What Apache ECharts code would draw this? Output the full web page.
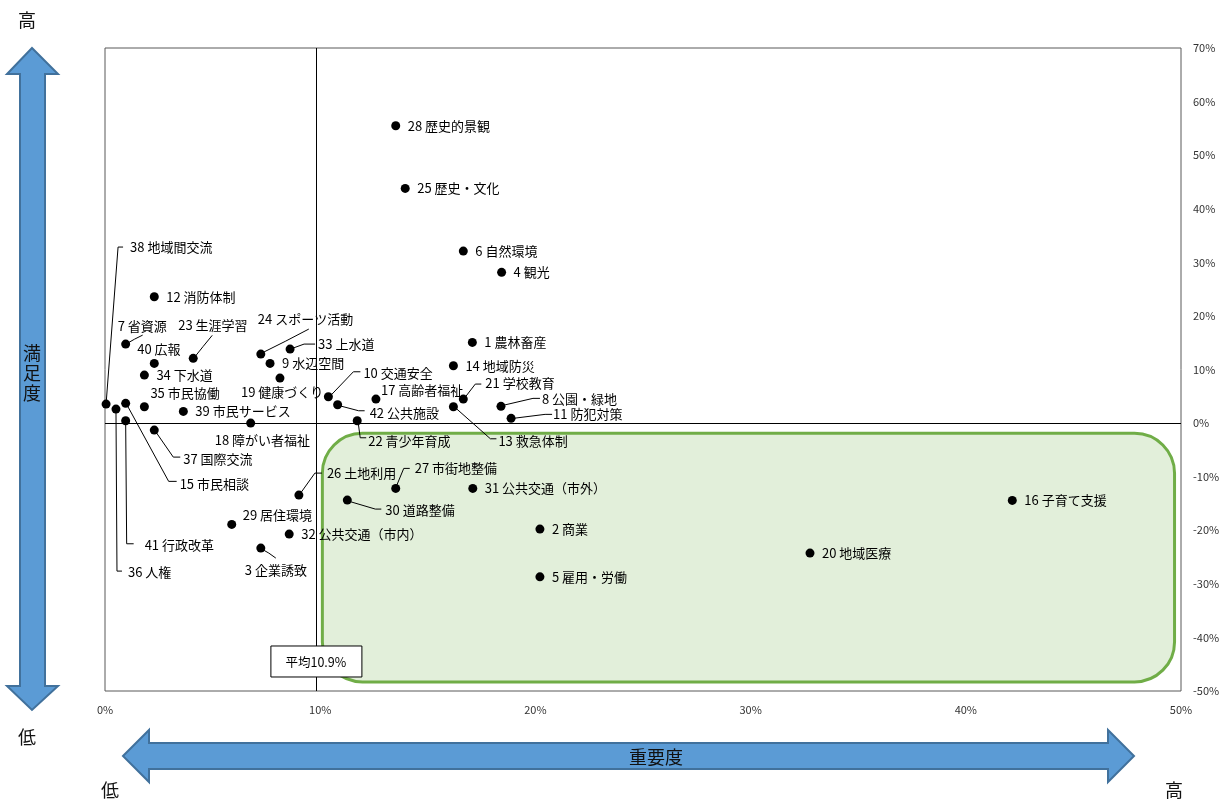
<!DOCTYPE html>
<html><head><meta charset="utf-8">
<script src="https://cdn.jsdelivr.net/npm/echarts@6/dist/echarts.min.js"></script>
<style>html,body{margin:0;padding:0;background:#fff}#c{width:1229px;height:800px}</style>
</head><body><div id="c"></div>
<script>
// ---- data ----
const ITEM_IDS = [1,2,3,4,5,6,7,8,9,10,11,12,13,14,15,16,17,18,19,20,21,22,23,24,25,26,27,28,29,30,31,32,33,34,35,36,37,38,39,40,41,42];
const ITEM_NAMES = ['農林畜産','商業','企業誘致','観光','雇用・労働','自然環境','省資源','公園・緑地','水辺空間','交通安全',
  '防犯対策','消防体制','救急体制','地域防災','市民相談','子育て支援','高齢者福祉','障がい者福祉','健康づくり','地域医療',
  '学校教育','青少年育成','生涯学習','スポーツ活動','歴史・文化','土地利用','市街地整備','歴史的景観','居住環境','道路整備',
  '公共交通（市外）','公共交通（市内）','上水道','下水道','市民協働','人権','国際交流','地域間交流','市民サービス','広報',
  '行政改革','公共施設'];
// 重要度 (%)
const IMPORTANCE = [17.07,20.21,7.24,18.43,20.21,16.65,0.96,18.40,7.67,10.38,
  18.87,2.29,16.19,16.19,0.96,42.16,12.59,6.77,8.13,32.76,
  16.65,11.72,4.10,7.24,13.95,9.01,13.51,13.51,5.89,11.26,
  17.09,8.56,8.60,1.83,1.83,0.51,2.29,0.05,3.64,2.29,
  0.96,10.81];
// 満足度 (%)
const SATISFACTION = [15.06,-19.78,-23.33,28.13,-28.69,32.10,14.74,3.12,11.14,4.91,
  0.88,23.57,3.04,10.69,3.68,-14.43,4.48,0.00,8.40,-24.26,
  4.48,0.43,12.08,12.88,43.80,-13.44,-12.19,55.49,-18.91,-14.37,
  -12.19,-20.72,13.81,8.96,3.04,2.61,-1.31,3.55,2.18,11.14,
  0.43,3.42];
const X_TICKS = [0,10,20,30,40,50];
const Y_TICKS = [-50,-40,-30,-20,-10,0,10,20,30,40,50,60,70];
const AVERAGE_LINE = 9.8;
const AVERAGE_LABEL = '平均10.9%';
const GREEN_ZONE_X = [10.1, 49.7];
const GREEN_ZONE_Y = [-1.9, -48.3];

// ---- label placement styles (pixel offsets from point centre) ----
const LABEL_OFFSET = {
  38:[24,-157], 7:[-8,-18], 40:[-17,-14], 23:[-15,-33], 24:[-3,-35], 33:[28,-5],
  19:[-39,14], 35:[6,-14], 18:[-36,17], 10:[35,-24], 17:[5,-9], 42:[32,8], 22:[11,20],
  21:[22,-16], 8:[41,-7], 11:[42,-4], 13:[45,34], 37:[29,29], 15:[54,81], 41:[19,124],
  36:[12,163], 26:[28,-22], 27:[19,-20], 30:[38,10], 29:[11,-9], 3:[-16,22]
};
const LEADERS = {
  38:[[0,0],[12,-157],[17,-157]], 7:[[2,-1],[9,-5],[17,-9]], 23:[[2,-2],[10,-12],[19,-23]],
  24:[[3,-2],[25,-13],[48,-25]], 33:[[3,-1],[14,-5],[25,-5]], 10:[[3,-2],[25,-25],[32,-25]],
  42:[[2,1],[21,6],[27,6]], 22:[[1,2],[3,17],[9,17]], 21:[[2,-2],[12,-15],[18,-15]],
  8:[[2,-1],[32,-8],[39,-8]], 11:[[2,0],[34,-4],[41,-4]], 13:[[2,1],[37,32],[43,32]],
  37:[[1,1],[19,27],[26,27]], 15:[[1,1],[43,78],[51,78]], 41:[[0,1],[1,123],[8,123]],
  36:[[0,1],[1,162],[6,162]], 26:[[1,-1],[16,-22],[23,-22]], 27:[[1,-3],[8,-20],[14,-20]],
  30:[[1,1],[28,9],[34,9]], 3:[[1,1],[8,5],[15,10]]
};

const FONT = '"Noto Sans CJK JP", "Noto Sans", sans-serif';
const chart = echarts.init(document.getElementById('c'));

const points = ITEM_IDS.map((id, i) => ({
  name: id + ' ' + ITEM_NAMES[i],
  value: [IMPORTANCE[i], SATISFACTION[i]]
}));
const leaderData = [];
ITEM_IDS.forEach((id, i) => { if (LEADERS[id]) leaderData.push([IMPORTANCE[i], SATISFACTION[i], id]); });

chart.setOption({
  animation: false,
  grid: { left: 105, right: 48, top: 48, bottom: 109, show: true, borderColor: '#595959', borderWidth: 1, backgroundColor: 'transparent' },
  xAxis: {
    type: 'value', min: X_TICKS[0], max: X_TICKS[X_TICKS.length-1], interval: 10,
    axisLine: { show: false }, axisTick: { show: false }, splitLine: { show: false },
    axisLabel: { formatter: '{value}%', fontSize: 11, color: '#333', margin: 13, fontFamily: FONT }
  },
  yAxis: {
    type: 'value', position: 'right', min: Y_TICKS[0], max: Y_TICKS[Y_TICKS.length-1], interval: 10,
    axisLine: { show: false }, axisTick: { show: false }, splitLine: { show: false },
    axisLabel: { formatter: '{value}%', fontSize: 11, color: '#333', margin: 12, fontFamily: FONT }
  },
  series: [{
    type: 'custom',
    z: 3,
    silent: true,
    data: leaderData,
    renderItem: function (params, api) {
      const id = api.value(2);
      const c = api.coord([api.value(0), api.value(1)]);
      return {
        type: 'polyline',
        shape: { points: LEADERS[id].map(q => [c[0] + q[0], c[1] + q[1]]) },
        style: { stroke: '#000', lineWidth: 1, fill: null }
      };
    }
  }, {
    type: 'scatter',
    z: 4,
    symbol: 'circle', symbolSize: 9,
    itemStyle: { color: '#000', opacity: 1 },
    data: points,
    label: { show: true, position: 'right', formatter: '{b}', fontSize: 13, color: '#000', fontFamily: FONT },
    labelLayout: function (p) {
      const id = ITEM_IDS[p.dataIndex];
      const cx = p.rect.x + p.rect.width / 2, cy = p.rect.y + p.rect.height / 2;
      const off = LABEL_OFFSET[id] || [12, 0];
      return { x: cx + off[0], y: cy + off[1], align: 'left', verticalAlign: 'middle' };
    },
    markLine: {
      silent: true, symbol: 'none', label: { show: false },
      lineStyle: { color: '#000', width: 1, type: 'solid' },
      data: [{ yAxis: 0 }, { xAxis: AVERAGE_LINE }]
    }
  }]
});

// ---- decorations ----
const g0 = chart.convertToPixel({ gridIndex: 0 }, [GREEN_ZONE_X[0], GREEN_ZONE_Y[0]]);
const g1 = chart.convertToPixel({ gridIndex: 0 }, [GREEN_ZONE_X[1], GREEN_ZONE_Y[1]]);
const avgPx = chart.convertToPixel({ gridIndex: 0 }, [AVERAGE_LINE, -44.4]);
const ARROW_FILL = '#5b9bd5', ARROW_STROKE = '#41719c';

chart.setOption({
  graphic: [
    { type: 'rect', z: 1, silent: true,
      shape: { x: g0[0], y: g0[1], width: g1[0] - g0[0], height: g1[1] - g0[1], r: 40 },
      style: { fill: '#e2efda', stroke: '#70ad47', lineWidth: 3 } },
    { type: 'rect', z: 10, silent: true,
      shape: { x: avgPx[0] - 45, y: avgPx[1] - 15, width: 91, height: 31 },
      style: { fill: '#fff', stroke: '#000', lineWidth: 1 } },
    { type: 'text', z: 11, silent: true, x: avgPx[0], y: avgPx[1] + 1,
      style: { text: AVERAGE_LABEL, font: '12.5px ' + FONT, fill: '#000', align: 'center', verticalAlign: 'middle' } },
    // vertical arrow
    { type: 'polygon', z: 1, silent: true,
      shape: { points: [[32,48],[58,74],[45,74],[45,686],[58,686],[32,710],[7,686],[20,686],[20,74],[7,74]] },
      style: { fill: ARROW_FILL, stroke: ARROW_STROKE, lineWidth: 2 } },
    { type: 'text', z: 2, silent: true, x: 32, y: 373,
      style: { text: '満\n足\n度', font: '18px ' + FONT, lineHeight: 20, fill: '#111', align: 'center', verticalAlign: 'middle' } },
    // horizontal arrow
    { type: 'polygon', z: 1, silent: true,
      shape: { points: [[123,756],[149,730],[149,743],[1108,743],[1108,730],[1134,756],[1108,782],[1108,769],[149,769],[149,782]] },
      style: { fill: ARROW_FILL, stroke: ARROW_STROKE, lineWidth: 2 } },
    { type: 'text', z: 2, silent: true, x: 656, y: 757,
      style: { text: '重要度', font: '18px ' + FONT, fill: '#111', align: 'center', verticalAlign: 'middle' } },
    { type: 'text', silent: true, x: 27, y: 20, style: { text: '高', font: '18px ' + FONT, fill: '#111', align: 'center', verticalAlign: 'middle' } },
    { type: 'text', silent: true, x: 27, y: 737, style: { text: '低', font: '18px ' + FONT, fill: '#111', align: 'center', verticalAlign: 'middle' } },
    { type: 'text', silent: true, x: 110, y: 790, style: { text: '低', font: '18px ' + FONT, fill: '#111', align: 'center', verticalAlign: 'middle' } },
    { type: 'text', silent: true, x: 1174, y: 790, style: { text: '高', font: '18px ' + FONT, fill: '#111', align: 'center', verticalAlign: 'middle' } }
  ]
});
</script>
</body></html>
